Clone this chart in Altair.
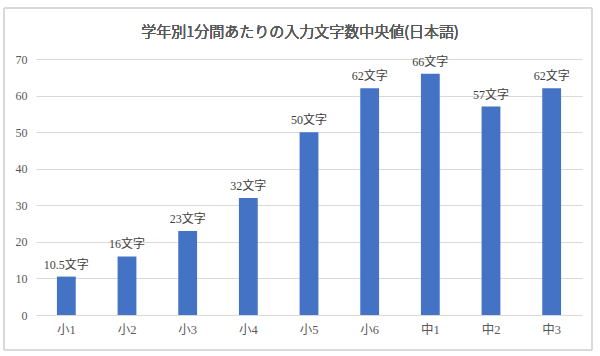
import altair as alt
import pandas as pd

title_text = "学年別1分間あたりの入力文字数中央値(日本語)"
grades = ["小1", "小2", "小3", "小4", "小5", "小6", "中1", "中2", "中3"]
values = [10.5, 16, 23, 32, 50, 62, 66, 57, 62]
labels = ["10.5文字", "16文字", "23文字", "32文字", "50文字", "62文字", "66文字", "57文字", "62文字"]
y_ticks = [0, 10, 20, 30, 40, 50, 60, 70]

df = pd.DataFrame({"grade": grades, "value": values, "label": labels})

FONT = "Liberation Serif, Noto Sans CJK JP"

x = alt.X("grade:N", sort=grades, title=None,
          scale=alt.Scale(paddingInner=0.69, paddingOuter=0.345),
          axis=alt.Axis(labelAngle=0, ticks=False, domain=False, labelFontSize=12.5,
                        labelColor="#595959", labelFont=FONT, labelPadding=8))
y = alt.Y("value:Q", title=None,
          scale=alt.Scale(domain=[0, 70], nice=False),
          axis=alt.Axis(values=y_ticks, ticks=False, domain=False,
                        gridColor="#d9d9d9", labelFontSize=12, labelColor="#595959",
                        labelFont=FONT, labelPadding=9))

base = alt.Chart(df).encode(x=x, y=y)
bars = base.mark_bar(color="#4472c4")
text = base.mark_text(baseline="bottom", dy=-5, fontSize=12, color="#404040",
                      font=FONT).encode(text="label:N")

border = alt.Chart(df).mark_rect(fill=None, stroke="#d9d9d9", strokeWidth=1).encode(
    x=alt.value(-32), x2=alt.value(556), y=alt.value(-51), y2=alt.value(291))

title = alt.Chart(df).mark_text(
    text=title_text, fontSize=15, font="Noto Sans CJK JP", fontWeight=300, color="#595959",
    align="center", baseline="middle").encode(x=alt.value(264), y=alt.value(-27))

chart = alt.layer(border, bars, text, title).properties(
    width=546, height=256,
    padding={"left": 36, "top": 59, "right": 18, "bottom": 41},
    autosize=alt.AutoSizeParams(type="none"),
    background="white",
).configure_view(stroke=None)

chart.save("out.html", embed_options={"renderer": "svg", "actions": False})
